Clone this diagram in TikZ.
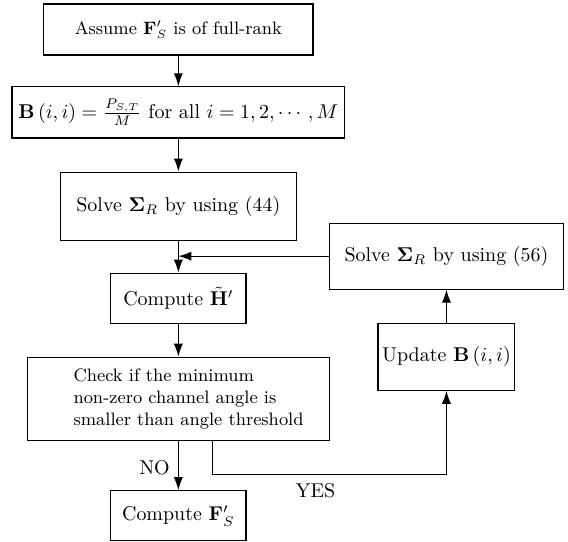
\documentclass[tikz,border=0pt]{standalone}
\usepackage{amsmath}
\usepackage{amssymb}
\usepackage{tikz}
\usetikzlibrary{positioning, arrows.meta, calc}

\begin{document}
\begin{tikzpicture}[
  box/.style={draw, rectangle, line width=0.6pt, align=center, font=\normalsize, inner sep=2pt},
  arrow/.style={-{Latex[length=6.5pt, width=4.6pt]}, line width=0.6pt},
  lbl/.style={font=\normalsize, inner sep=1pt}
]
  \useasboundingbox (0,0) rectangle (10,-9.54);

  \node[box, minimum width=4.74cm, minimum height=0.90cm, font=\small] (assume) at (3.14,-0.52) {Assume $\mathbf{F}'_S$ is of full-rank};
  \node[box, minimum width=5.86cm, minimum height=0.90cm] (init)   at (3.14,-1.98) {$\mathbf{B}\left(i,i\right)=\frac{P_{S,T}}{M}$ for all $i=1,2,\cdots,M$};
  \node[box, minimum width=4.15cm, minimum height=1.20cm] (sol44)  at (3.14,-3.63) {Solve $\mathbf{\Sigma}_R$ by using (44)};
  \node[box, minimum width=2.38cm, minimum height=0.88cm] (comph)  at (3.14,-5.25) {Compute $\tilde{\mathbf{H}}'$};
  \node[box, minimum width=5.32cm, minimum height=1.46cm, align=left, font=\small] (check) at (3.14,-7.02)
    {\hspace*{0.36cm}Check if the minimum\\\hspace*{0.36cm}non-zero channel angle is\\\hspace*{0.36cm}smaller than angle threshold};
  \node[box, minimum width=2.38cm, minimum height=0.88cm] (compf)  at (3.14,-9.08) {Compute $\mathbf{F}'_S$};
  \node[box, minimum width=4.12cm, minimum height=1.16cm] (sol56)  at (7.86,-4.51) {Solve $\mathbf{\Sigma}_R$ by using (56)};
  \node[box, minimum width=2.38cm, minimum height=1.18cm] (update) at (7.86,-6.28) {Update $\mathbf{B}\left(i,i\right)$};

  \coordinate (merge) at (sol56.west -| comph.north);
  \coordinate (yes)   at ($(check.south)+(0.6,0)$);
  \coordinate (turn)  at ($(yes)+(0,-0.6)$);

  \draw[arrow] (assume.south) -- (init.north);
  \draw[arrow] (init.south)   -- (sol44.north);
  \draw[arrow] (sol44.south)  -- (comph.north);
  \draw[arrow] (sol56.west)   -- (merge);
  \draw[arrow] (comph.south)  -- (check.north);
  \draw[arrow] (check.south)  -- (compf.north)
    node[pos=0.55, left=3pt, lbl] {NO};
  \draw[arrow] (yes) -- (turn) -| (update.south)
    node[pos=0.22, below=3pt, lbl] {YES};
  \draw[arrow] (update.north) -- (sol56.south);
\end{tikzpicture}
\end{document}
